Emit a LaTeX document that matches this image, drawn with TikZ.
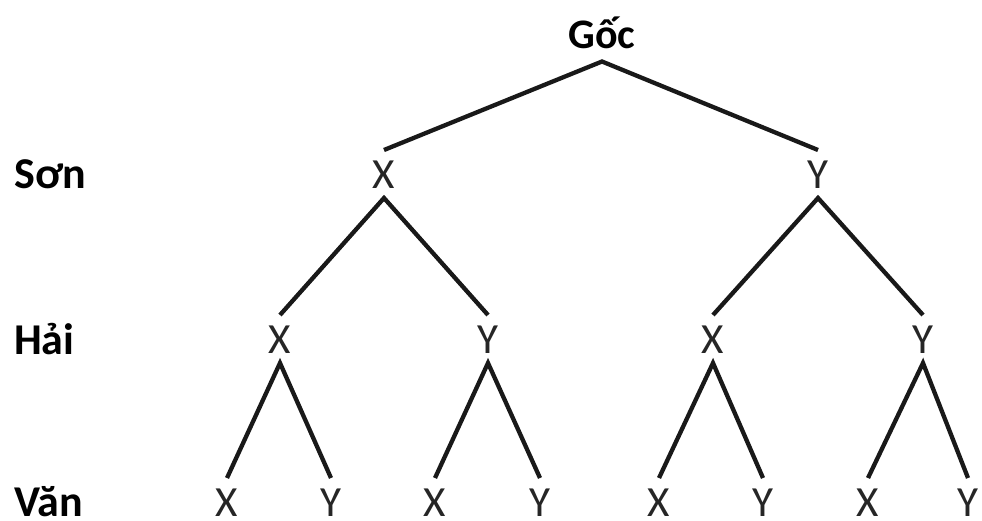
\documentclass[tikz,border=0pt]{standalone}
\usepackage{fontspec}
\setmainfont{Carlito}
\begin{document}
\begin{tikzpicture}[x=1pt,y=-1pt,
  leaf/.style={font=\fontsize{43}{43}\selectfont, text=black!85, inner sep=0pt, text height=28pt, text depth=0pt, outer sep=10pt},
  rowlabel/.style={font=\fontsize{44}{44}\selectfont\bfseries, inner sep=0pt, text height=29pt, text depth=0pt, anchor=west},
  edge/.style={line width=4.3pt, black!90}]
\useasboundingbox[fill=white] (0,0) rectangle (982,520);
% root
\node[font=\fontsize{42}{42}\selectfont\bfseries, inner sep=0pt, text height=26pt, text depth=0pt, outer sep=13pt] (r) at (602,35.5) {Gốc};
% row labels
\node[rowlabel] (ls) at (14,174) {Sơn};
\node[rowlabel] (lh) at (14,340) {Hải};
\node[rowlabel] (lv) at (14,502) {Văn};
% level 1
\node[leaf] (a) at (384,174) {X};
\node[leaf] (b) at (818,174) {Y};
% level 2
\node[leaf] (aa) at (280,339) {X};
\node[leaf] (ab) at (488,339) {Y};
\node[leaf] (ba) at (713,339) {X};
\node[leaf] (bb) at (923,339) {Y};
% level 3
\node[leaf] (aaa) at (227,502) {X};
\node[leaf] (aab) at (331,502) {Y};
\node[leaf] (aba) at (435,502) {X};
\node[leaf] (abb) at (540,502) {Y};
\node[leaf] (baa) at (659,502) {X};
\node[leaf] (bab) at (763,502) {Y};
\node[leaf] (bba) at (868,502) {X};
\node[leaf] (bbb) at (968,502) {Y};
% edges
\draw[edge] (a.north) -- (r.south) -- (b.north);
\draw[edge] (aa.north) -- (a.south) -- (ab.north);
\draw[edge] (ba.north) -- (b.south) -- (bb.north);
\draw[edge] (aaa.north) -- (aa.south) -- (aab.north);
\draw[edge] (aba.north) -- (ab.south) -- (abb.north);
\draw[edge] (baa.north) -- (ba.south) -- (bab.north);
\draw[edge] (bba.north) -- (bb.south) -- (bbb.north);
\end{tikzpicture}
\end{document}
